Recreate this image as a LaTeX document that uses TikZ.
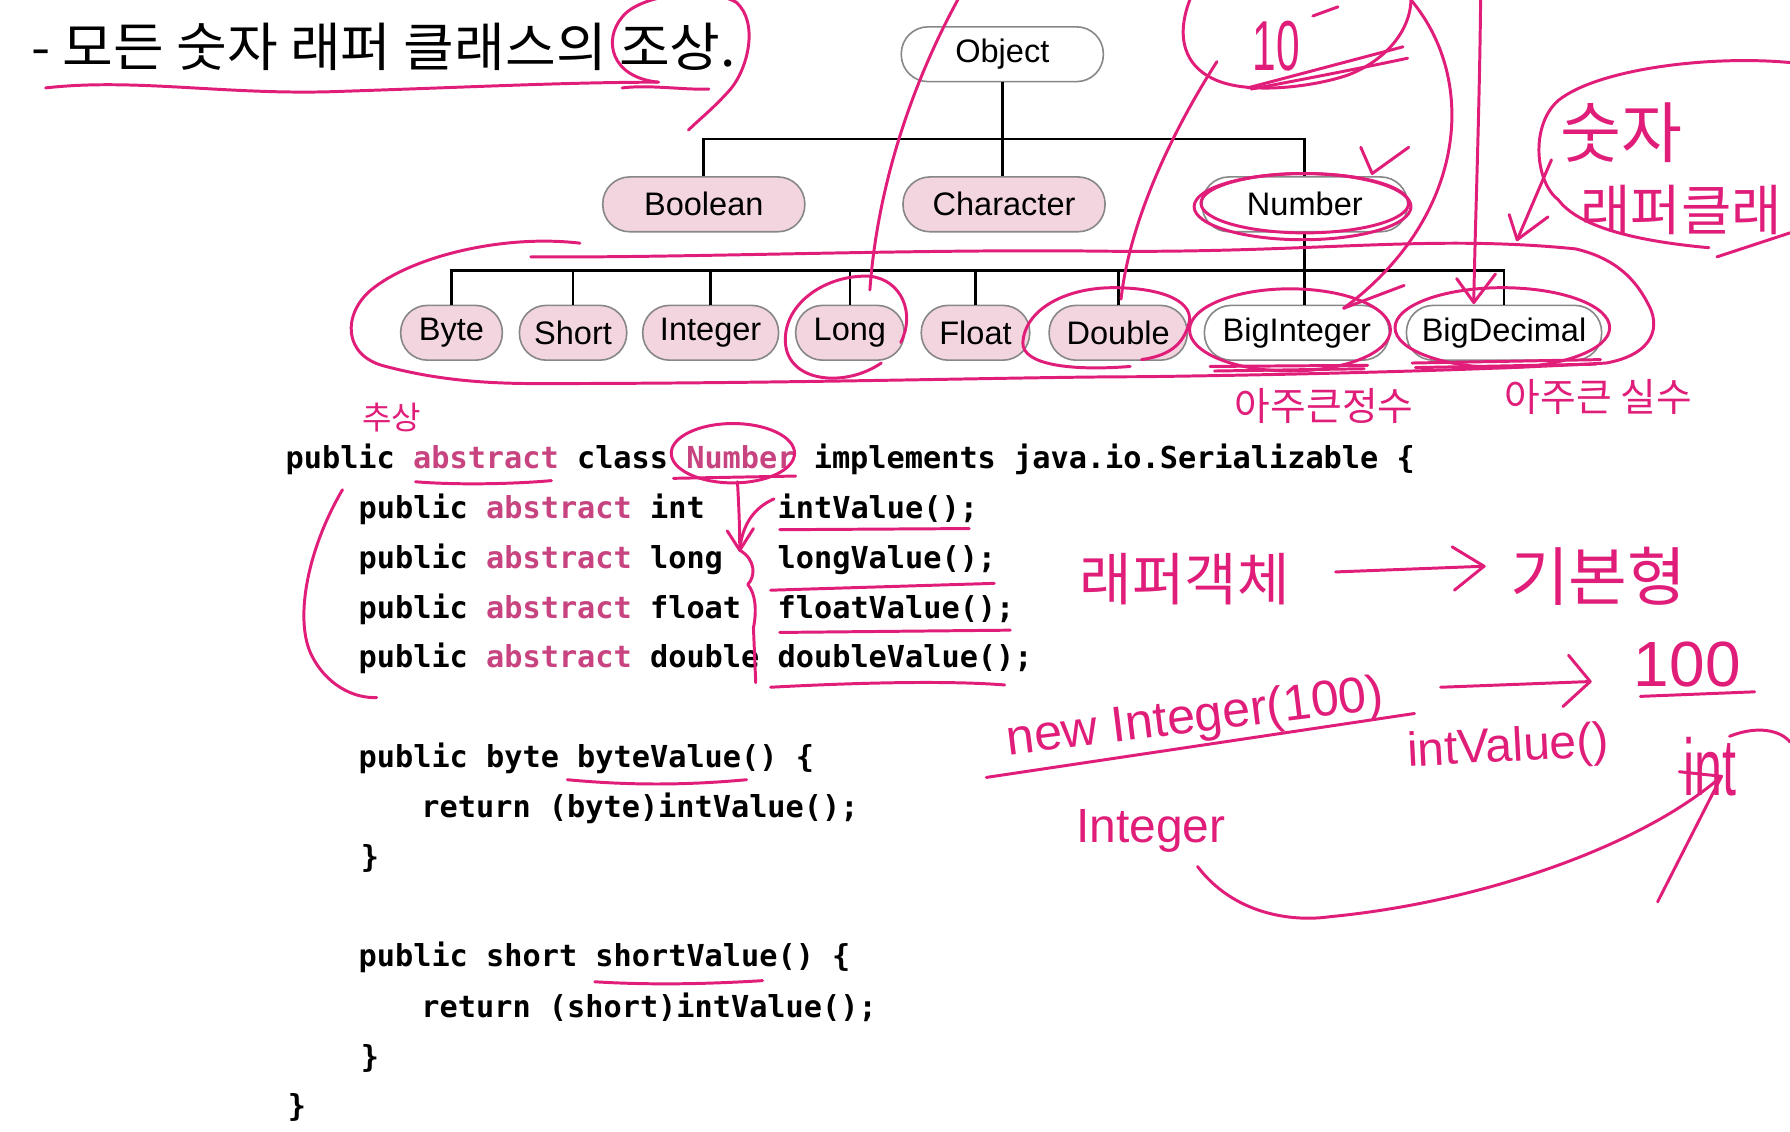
\documentclass[tikz,border=0pt]{standalone}
\usepackage{fontspec}
\setmainfont{Liberation Sans}
\newfontfamily\kr{Noto Sans CJK KR}
\newfontfamily\codefont{DejaVu Sans Mono}
\newfontfamily\hand{Liberation Sans}
\definecolor{penc}{RGB}{224,30,122}
\definecolor{kw}{RGB}{200,68,128}
\definecolor{nodepink}{RGB}{243,213,224}
\definecolor{nodeline}{RGB}{135,135,135}
\tikzset{
  cls/.style={draw=nodeline, line width=1.4pt, rounded corners=23.5pt, minimum height=48pt, inner sep=0pt, font=\fontsize{28.5}{28.5}\selectfont},
  pinkcls/.style={cls, fill=nodepink},
  whitecls/.style={cls, fill=white},
  tree/.style={line width=2.4pt, black},
  pen/.style={draw=penc, line width=2.6pt, line cap=round, line join=round},
  codeline/.style={anchor=base west, inner sep=0pt, font=\codefont\bfseries\fontsize{26.5}{30}\selectfont},
  handkr/.style={text=penc, inner sep=0pt, font=\kr\fontsize{#1}{#1}\selectfont},
  handlat/.style={text=penc, inner sep=0pt, font=\hand\fontsize{#1}{#1}\selectfont},
}
\begin{document}
\begin{tikzpicture}[x=1pt,y=-1pt]
\clip (0,0) rectangle (1568,991);
\fill[white] (0,0) rectangle (1568,991);

% title
\node[anchor=base west, inner sep=0pt, font=\kr\fontsize{46}{46}\selectfont] (title) at (27,58) {\scalebox{1.05}[1]{- 모든 숫자 래퍼 클래스의 조상.}};

% class tree
\node[whitecls, minimum width=177pt] (obj) at (878,47.5) {Object};
\node[pinkcls, minimum width=177pt] (bool) at (616.5,179) {Boolean};
\node[pinkcls, minimum width=177pt] (chr) at (879.5,179) {Character};
\node[whitecls, minimum width=180pt] (num) at (1143,179) {Number};

\node[pinkcls, minimum width=89pt] (byte) at (395.5,291.5) {Byte};
\node[pinkcls, minimum width=94pt] (short) at (502,291.5) {Short};
\node[pinkcls, minimum width=119pt] (integer) at (622.5,291.5) {Integer};
\node[pinkcls, minimum width=95pt] (long) at (744.5,291.5) {Long};
\node[pinkcls, minimum width=95pt] (float) at (854.5,291.5) {Float};
\node[pinkcls, minimum width=121pt] (double) at (979.5,291.5) {Double};
\node[whitecls, minimum width=162pt] (bigint) at (1136,291.5) {BigInteger};
\node[whitecls, minimum width=171pt] (bigdec) at (1317.5,291.5) {BigDecimal};

\draw[tree] (obj.south) -- ++(0,49.5) -| (bool.north);
\draw[tree] (obj.south) -- ++(0,49.5) -| (num.north);
\draw[tree] (obj.south) -- (obj.south |- chr.north);
\foreach \n in {byte,short,integer,long,float,double,bigdec}
  \draw[tree] (num.south) -- ++(0,33) -| (\n.north);
\draw[tree] (num.south) -- (num.south |- bigint.north);

% code
\node[codeline] (c1) at (250,410) {public \textcolor{kw}{abstract} class \textcolor{kw}{Number} implements java.io.Serializable \{};
\node[codeline] (c2a) at (314,454) {public \textcolor{kw}{abstract} int};
\node[codeline] (c2b) at (681,454) {intValue();};
\node[codeline] (c3a) at (314,498) {public \textcolor{kw}{abstract} long};
\node[codeline] (c3b) at (681,498) {longValue();};
\node[codeline] (c4a) at (314,542) {public \textcolor{kw}{abstract} float};
\node[codeline] (c4b) at (681,542) {floatValue();};
\node[codeline] (c5a) at (314,585) {public \textcolor{kw}{abstract} double};
\node[codeline] (c5b) at (681,585) {doubleValue();};
\node[codeline] (c6) at (314,672) {public byte byteValue() \{};
\node[codeline] (c7) at (369,716) {return (byte)intValue();};
\node[codeline] (c8) at (316,760) {\}};
\node[codeline] (c9) at (314,847) {public short shortValue() \{};
\node[codeline] (c10) at (369,891) {return (short)intValue();};
\node[codeline] (c11) at (316,935) {\}};
\node[codeline] (c12) at (252,978) {\}};

% ---------- handwriting ----------
% title underline and loop
\draw[pen] (40,77) .. controls (120,68) and (200,84) .. (300,80) .. controls (420,76) and (500,72) .. (576,72);
\draw[pen] (545,77) .. controls (570,74) and (600,79) .. (621,78);
\draw[pen] (577,72) .. controls (535,68) and (528,35) .. (545,15) .. controls (560,-5) and (620,-12) .. (645,2) .. controls (665,20) and (655,60) .. (640,78) .. controls (625,95) and (612,105) .. (603,114);

% stroke to Long and loop
\draw[pen] (840,-2) .. controls (795,80) and (768,170) .. (762,254);
\draw[pen] (772,318) .. controls (740,340) and (690,335) .. (688,300) .. controls (686,265) and (725,240) .. (762,242) .. controls (790,245) and (802,275) .. (789,300);

% "10" circle and strokes
\draw[pen] (1043,-2) .. controls (1030,30) and (1035,60) .. (1070,72) .. controls (1100,82) and (1150,76) .. (1180,66) .. controls (1210,55) and (1235,30) .. (1236,0);
\draw[pen] (1093,77) -- (1229,41);
\draw[pen] (1096,78) .. controls (1150,68) and (1200,58) .. (1233,51);
\node[handlat=62, xscale=0.6] (ten) at (1118,40) {10};
\draw[pen] (1150,14) -- (1172,6);
\draw[pen] (1066,54) .. controls (1030,110) and (990,190) .. (982,262);

% Double loop
\draw[pen] (990,321) .. controls (940,325) and (895,320) .. (896,300) .. controls (898,270) and (935,252) .. (975,252) .. controls (1020,252) and (1048,265) .. (1041,285) .. controls (1035,305) and (1020,312) .. (1000,315);

% Number check mark and loops
\draw[pen] (1192,129) -- (1202,152) -- (1234,129);
\draw[pen] (1141,181) ellipse [x radius=95, y radius=29];
\draw[pen] (1143,178) ellipse [x radius=91, y radius=26];

% strokes to BigInteger and BigDecimal
\draw[pen] (1236,0) .. controls (1295,70) and (1285,190) .. (1177,270);
\draw[pen] (1177,270) -- (1230,250);
\draw[pen] (1297,-2) .. controls (1296,100) and (1292,200) .. (1291,265);
\draw[pen] (1276,244) -- (1291,265) -- (1310,240);

% big loop around second row
\draw[pen] (508,213) .. controls (440,205) and (360,225) .. (325,254) .. controls (300,275) and (300,312) .. (338,321) .. controls (380,332) and (420,336) .. (470,336) .. controls (700,336) and (900,330) .. (1000,330) .. controls (1150,328) and (1300,324) .. (1407,318) .. controls (1450,310) and (1455,285) .. (1443,265) .. controls (1430,240) and (1410,225) .. (1380,218) .. controls (1250,205) and (1150,222) .. (963,220) .. controls (800,218) and (600,226) .. (465,225);

% BigInteger / BigDecimal loops
\draw[pen] (1130,289) ellipse [x radius=88, y radius=36];
\draw[pen] (1060,321) -- (1198,320);
\draw[pen] (1064,325) -- (1195,323);
\draw[pen] (1316,287) ellipse [x radius=94, y radius=35];
\draw[pen] (1237,318) -- (1402,315);
\draw[pen] (1240,322) -- (1398,319);
\node[handkr=34] (h2) at (1160,356) {아주큰정수};
\node[handkr=34] (h3) at (1400,348) {아주큰 실수};

% "숫자 래퍼클래" bubble
\draw[pen] (1570,55) .. controls (1500,48) and (1400,60) .. (1365,88) .. controls (1340,110) and (1345,160) .. (1365,175) .. controls (1380,195) and (1420,210) .. (1497,217);
\draw[pen] (1504,225) -- (1568,204);
\draw[pen] (1359,140) -- (1329,210);
\draw[pen] (1322,188) -- (1329,210) -- (1356,190);
\node[handkr=58] (h4) at (1420,116) {숫자};
\node[handkr=48, anchor=west] (h5) at (1384,184) {래퍼클래};

% code annotations
\node[handkr=28] (h1) at (343,366) {추상};
\draw[pen] (364,422) .. controls (400,425) and (450,424) .. (483,421);
\draw[pen] (642,397) ellipse [x radius=54, y radius=26];
\draw[pen] (590,419) -- (697,417);
\draw[pen] (646,422) .. controls (647,440) and (648,460) .. (648,480);
\draw[pen] (637,465) -- (648,482) -- (660,463);
\draw[pen] (678,437) .. controls (660,445) and (650,460) .. (648,482);
\draw[pen] (648,482) .. controls (662,490) and (662,505) .. (655,512) .. controls (662,520) and (663,535) .. (660,550) -- (662,598);
\draw[pen] (300,429) .. controls (270,480) and (258,540) .. (272,572) .. controls (285,600) and (310,612) .. (330,611);
\draw[pen] (683,464) -- (849,463);
\draw[pen] (675,517) -- (871,511);
\draw[pen] (683,554) -- (885,552);
\draw[pen] (675,602) .. controls (750,598) and (830,596) .. (880,600);
\draw[pen] (497,683) .. controls (550,688) and (600,688) .. (654,683);
\draw[pen] (521,860) .. controls (570,863) and (620,862) .. (668,859);

% right side notes
\node[handkr=50] (h6) at (1038,507) {래퍼객체};
\draw[pen] (1170,501) -- (1300,496);
\draw[pen] (1272,479) -- (1300,496) -- (1274,517);
\node[handkr=56] (h7) at (1400,505) {기본형};

\node[handlat=44, rotate=7] (h9) at (1047,630) {new Integer(100)};
\draw[pen] (864,681) -- (1239,625);
\draw[pen] (1262,602) -- (1393,597);
\draw[pen] (1374,574) -- (1393,597) -- (1369,619);
\node[handlat=56] (h11) at (1478,582) {100};
\draw[pen] (1437,610) -- (1537,606);
\node[handlat=42, rotate=3] (h10) at (1321,656) {intValue()};
\node[handlat=44, yscale=1.6] (h12) at (1498,672) {int};
\draw[pen] (1515,645) .. controls (1540,635) and (1560,640) .. (1568,650);
\node[handlat=42] (h13) at (1008,728) {Integer};
\draw[pen] (1049,759) .. controls (1080,800) and (1130,808) .. (1165,803) .. controls (1300,790) and (1440,740) .. (1508,680);
\draw[pen] (1471,676) -- (1508,680) -- (1452,790);
\end{tikzpicture}
\end{document}
